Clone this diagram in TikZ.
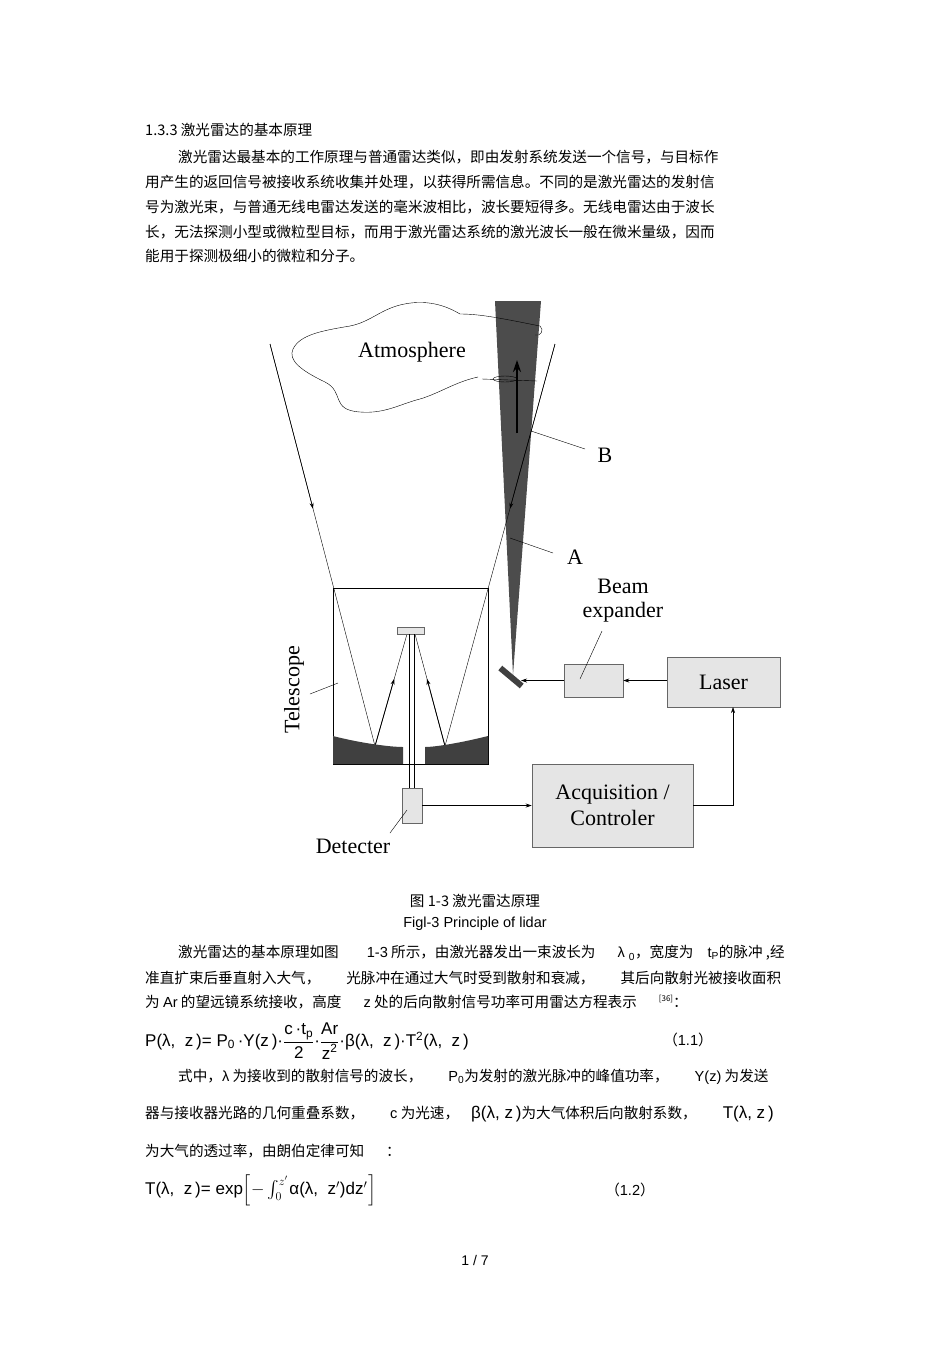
\documentclass[tikz,border=0pt]{standalone}
\usepackage{amsmath}
\usepackage{fontspec}
\setmainfont{Liberation Sans}
\newfontfamily\cjk{Noto Sans CJK SC}
\newfontfamily\dserif{Liberation Serif}
\usetikzlibrary{arrows.meta,calc}
\begin{document}
\begin{tikzpicture}[x=1pt,y=-1pt,
  tl/.style={anchor=west,inner sep=0pt,font=\cjk\fontsize{14.6}{15}\selectfont},
  dl/.style={font=\dserif\fontsize{22}{24}\selectfont,inner sep=0pt,align=center},
  gbox/.style={draw=black!60,fill=black!10,line width=0.5pt},
  arr/.style={-{Stealth[length=6pt,width=4pt]},line width=0.6pt},
  thin/.style={line width=0.4pt}]
\useasboundingbox (0,0) rectangle (950,1345);
% text above
\node[tl] (h) at (145,130) {1.3.3 激光雷达的基本原理};
\node[tl] (p1) at (178,157) {激光雷达最基本的工作原理与普通雷达类似，即由发射系统发送一个信号，与目标作};
\node[tl] (p2) at (145,182) {用产生的返回信号被接收系统收集并处理，以获得所需信息。不同的是激光雷达的发射信};
\node[tl] (p3) at (145,207) {号为激光束，与普通无线电雷达发送的毫米波相比，波长要短得多。无线电雷达由于波长};
\node[tl] (p4) at (145,232) {长，无法探测小型或微粒型目标，而用于激光雷达系统的激光波长一般在微米量级，因而};
\node[tl] (p5) at (145,256) {能用于探测极细小的微粒和分子。};
% ---------- diagram ----------
\fill[black!70] (495,301) -- (541,301) -- (513,675) -- cycle;
% cloud
\draw[thin] (540,326) .. controls (500,318) and (480,314) .. (460,314)
  .. controls (440,302) and (420,300) .. (400,305)
  .. controls (380,310) and (370,322) .. (350,326)
  .. controls (320,331) and (300,335) .. (293,349)
  .. controls (288,360) and (300,370) .. (325,382)
  .. controls (345,392) and (330,410) .. (360,412)
  .. controls (385,414) and (400,404) .. (420,399)
  .. controls (440,393) and (455,382) .. (478,377);
\draw[thin] (482,379) -- (537,381);
\draw[thin] (505,379) ellipse (12 and 3);
\draw[thin] (540,326) .. controls (545,330) and (540,337) .. (535,335);
\node[dl] (atm) at (412,352) {Atmosphere};
% pulse arrow
\draw[-{Stealth[length=12pt,width=8pt]},line width=1.8pt] (517,433) -- (517,360);
% rays
\coordinate (L0) at (270,344);
\coordinate (R0) at (555,344);
\coordinate (LR) at (375,746);
\coordinate (RR) at (445,746);
\coordinate (S1) at (407,634);
\coordinate (S2) at (415,634);
\draw[thin] (L0) -- (LR);
\draw[thin] (R0) -- (RR);
\draw[arr] (L0) -- ($(L0)!0.41!(LR)$);
\draw[arr] (R0) -- ($(R0)!0.41!(RR)$);
\draw[thin] (LR) -- (S1);
\draw[thin] (RR) -- (S2);
\draw[arr,line width=0.8pt] (LR) -- ($(LR)!0.6!(S1)$);
\draw[arr,line width=0.8pt] (RR) -- ($(RR)!0.6!(S2)$);
% telescope
\draw[thin] (333,588) rectangle (488,764);
\fill[black!75] (333,736) .. controls (360,743) and (390,747) .. (403,747) -- (403,764) -- (333,764) -- cycle;
\fill[black!75] (488,736) .. controls (460,743) and (435,747) .. (425,747) -- (425,764) -- (488,764) -- cycle;
\node[gbox,minimum width=27pt,minimum height=7pt,inner sep=0pt] (sec) at (410.5,630.5) {};
\draw[thin] (409,634) -- (409,788);
\draw[thin] (414,634) -- (414,788);
\node[gbox,minimum width=20pt,minimum height=35pt,inner sep=0pt] (det) at (412,805.5) {};
\node[dl] (detl) at (353,846) {Detecter};
\draw[thin] (390,833) -- (407,810);
\node[dl,rotate=90] (tell) at (294,690) {Telescope};
\draw[thin] (310,694) -- (338,683);
% folding mirror
\fill[black!75,rotate around={-40:(511,677)}] (497,674) rectangle (525,680);
% boxes
\node[gbox,minimum width=59pt,minimum height=33pt,inner sep=0pt] (be) at (593.5,680.5) {};
\node[dl] (bel) at (623,601) {Beam\\[0pt]expander};
\draw[thin] (602,631) -- (580,679);
\node[gbox,minimum width=113pt,minimum height=50pt,inner sep=0pt,dl] (laser) at (723.5,682) {Laser};
\node[gbox,minimum width=161pt,minimum height=83pt,inner sep=0pt,dl] (acq) at (612.5,805.5) {Acquisition /\\[2pt]Controler};
\draw[arr] (laser.west |- be.east) -- (be.east);
\draw[arr] (be.west) -- (521,680.5);
\draw[arr] (det.east) -- (det.east -| acq.west);
\draw[arr] (acq.east) -- (733,805.5) -- (733,707);
% A, B
\node[dl] (B) at (605,455) {B};
\node[dl] (A) at (575,557) {A};
\draw[thin] (531,431) -- (585,449);
\draw[thin] (510,538) -- (553,553);
% caption
\node[tl,anchor=center] (cap1) at (475,901) {图 1-3 激光雷达原理};
\node[anchor=center,inner sep=0pt,font=\fontsize{14.5}{15}\selectfont] (cap2) at (475,924) {Figl-3 Principle of lidar};
% lower text
\node[tl] (q1) at (178,953) {激光雷达的基本原理如图\hspace{28pt}{\rmfamily 1-3} 所示，由激光器发出一束波长为\hspace{22pt}{\rmfamily λ \textsubscript{0}}，宽度为\hspace{14pt}{\rmfamily t\textsubscript{P}}的脉冲 ,经};
\node[tl] (q2) at (145,978) {准直扩束后垂直射入大气，\hspace{26pt}光脉冲在通过大气时受到散射和衰减，\hspace{26pt}其后向散射光被接收面积};
\node[tl] (q3) at (145,1002) {为 {\rmfamily Ar} 的望远镜系统接收，高度\hspace{22pt}{\rmfamily z} 处的后向散射信号功率可用雷达方程表示\hspace{22pt}\raisebox{6pt}{\fontsize{8}{8}\selectfont[36]}：};
\node[anchor=west,inner sep=0pt,font=\fontsize{17}{19}\selectfont] (eq1) at (145,1041) {P(λ,\ \ z\,)= P\textsubscript{0}\,·Y(z\,)·$\dfrac{\text{c\,·t\textsubscript{p}}}{\text{2}}$·$\dfrac{\text{Ar}}{\text{z\textsuperscript{2}}}$·β(λ,\ \ z\,)·T\textsuperscript{2}(λ,\ \ z\,)};
\node[tl,anchor=center] (n1) at (688,1040) {（{\rmfamily 1.1}）};
\node[tl] (q4) at (178,1077) {式中，{\rmfamily λ} 为接收到的散射信号的波长，\hspace{26pt}{\rmfamily P\textsubscript{0}}为发射的激光脉冲的峰值功率，\hspace{26pt}{\rmfamily Y(z)} 为发送};
\node[tl] (q5) at (145,1114) {器与接收器光路的几何重叠系数，\hspace{26pt}{\rmfamily c} 为光速，\hspace{12pt}{\rmfamily\fontsize{17}{17}\selectfont β(λ,\ z\,)}为大气体积后向散射系数，\hspace{26pt}{\rmfamily\fontsize{17}{17}\selectfont T(λ,\ z\,)}};
\node[tl] (q6) at (145,1151) {为大气的透过率，由朗伯定律可知\hspace{22pt}：};
\node[anchor=west,inner sep=0pt,font=\fontsize{17}{19}\selectfont] (eq2) at (145,1190) {T(λ,\ \ z\,)= exp$\left[-\int_0^{z'}\right.$α(λ,\ \ z$'$)dz$'$$\left.\vphantom{\int_0^{z'}}\right]$};
\node[tl,anchor=center] (n2) at (630,1190) {（{\rmfamily 1.2}）};
\node[anchor=center,inner sep=0pt,font=\fontsize{14}{15}\selectfont] (pg) at (475,1260) {1 / 7};
\end{tikzpicture}
\end{document}
